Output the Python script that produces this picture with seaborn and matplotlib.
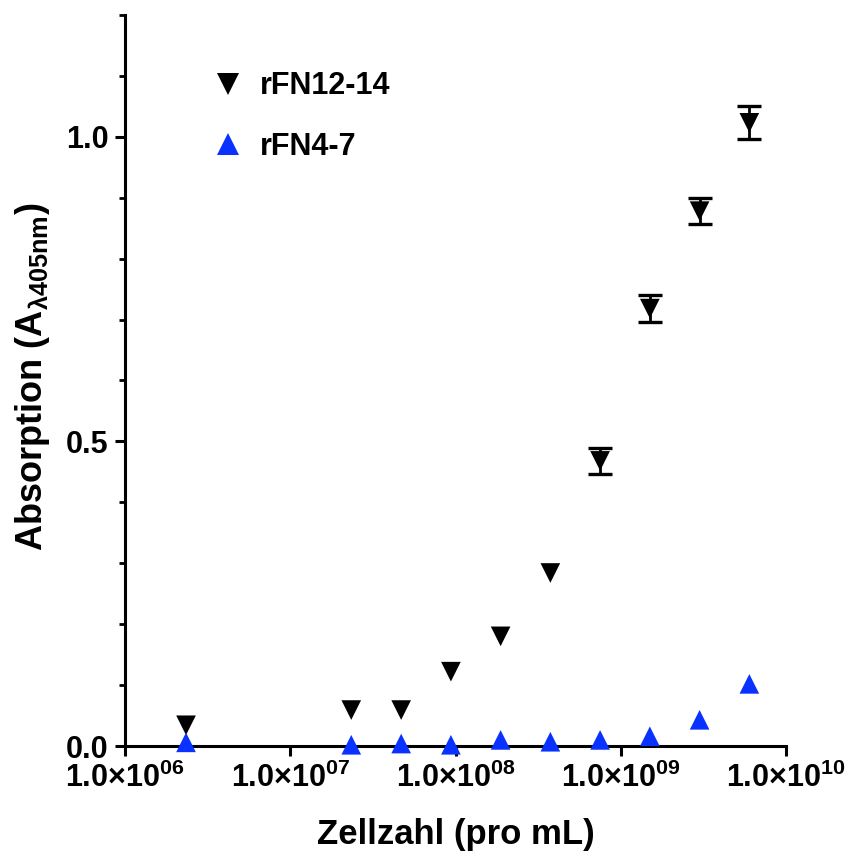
import numpy as np
import pandas as pd
import matplotlib
matplotlib.use("Agg")
import matplotlib.pyplot as plt
import seaborn as sns
from matplotlib.ticker import FixedLocator, MultipleLocator, FuncFormatter, NullLocator

# ---- data ----
cells = [2.34e6, 2.34e7, 4.69e7, 9.38e7, 1.875e8, 3.75e8, 7.5e8, 1.5e9, 3.0e9, 6.0e9]
rfn12_14 = [0.034, 0.059, 0.059, 0.122, 0.180, 0.284, 0.468, 0.718, 0.878, 1.023]
rfn12_14_err = [0, 0, 0, 0, 0, 0, 0.022, 0.022, 0.021, 0.027]
rfn4_7 = [0.006, 0.002, 0.004, 0.002, 0.010, 0.007, 0.010, 0.016, 0.043, 0.102]
series_names = ["rFN12-14", "rFN4-7"]
x_ticks = [1e6, 1e7, 1e8, 1e9, 1e10]
y_major = [0.0, 0.5, 1.0]

sns.set_theme(style="ticks")
plt.rcParams["font.family"] = ["Liberation Sans", "DejaVu Sans"]
plt.rcParams["font.weight"] = "bold"
plt.rcParams["mathtext.fontset"] = "custom"
plt.rcParams["mathtext.bf"] = "Liberation Sans:bold"
plt.rcParams["mathtext.rm"] = "Liberation Sans:bold"
plt.rcParams["mathtext.default"] = "bf"
for k in ["text.color", "axes.labelcolor", "xtick.color", "ytick.color",
          "xtick.labelcolor", "ytick.labelcolor", "axes.edgecolor"]:
    plt.rcParams[k] = "black"

df = pd.DataFrame({
    "cells": cells * 2,
    "value": rfn12_14 + rfn4_7,
    "series": [series_names[0]] * len(cells) + [series_names[1]] * len(cells),
})

fig = plt.figure(figsize=(8.52, 8.58), dpi=100)
ax = fig.add_axes([125 / 852, 1 - 746 / 858, 661 / 852, 731 / 858])

colors = {series_names[0]: "black", series_names[1]: "#0a32ff"}
markers = {series_names[0]: "v", series_names[1]: "^"}

# error bars (black series, only where present)
err_df = pd.DataFrame({"cells": cells, "value": rfn12_14, "err": rfn12_14_err})
err_df = err_df[err_df["err"] > 0]
ax.errorbar(err_df["cells"], err_df["value"], yerr=err_df["err"], fmt="none",
            ecolor="black", elinewidth=2.0, capsize=8.5, capthick=2.4, zorder=3)

sns.scatterplot(data=df, x="cells", y="value", hue="series", style="series",
                palette=colors, markers=markers, s=200, linewidth=0,
                edgecolor="none", ax=ax, zorder=4, clip_on=False, legend=True)

ax.set_xscale("log")
ax.set_xlim(1e6, 1e10)
ax.set_ylim(0, 1.2)

ax.xaxis.set_major_locator(FixedLocator(x_ticks))
ax.xaxis.set_minor_locator(NullLocator())

def xfmt(v, pos):
    e = int(round(np.log10(v)))
    return "1.0×10$^{%02d}$" % e

ax.xaxis.set_major_formatter(FuncFormatter(xfmt))
ax.yaxis.set_major_locator(FixedLocator(y_major))
ax.yaxis.set_minor_locator(MultipleLocator(0.1))
ax.yaxis.set_major_formatter(FuncFormatter(lambda v, p: "%.1f" % v))

for s in ["top", "right"]:
    ax.spines[s].set_visible(False)
for s in ["left", "bottom"]:
    ax.spines[s].set_linewidth(2.2)
    ax.spines[s].set_color("black")

ax.tick_params(axis="both", which="major", direction="out", length=7, width=2.2,
               color="black", labelcolor="black", labelsize=22, pad=5)
ax.tick_params(axis="y", which="minor", direction="out", length=4.5, width=2.0, color="black")
for lab in ax.get_xticklabels() + ax.get_yticklabels():
    lab.set_fontweight("bold")

ax.set_xlabel("Zellzahl (pro mL)", fontsize=25, fontweight="bold", color="black")
ax.set_ylabel("Absorption (A$_{λ405nm}$)", fontsize=26, fontweight="bold", color="black")
ax.xaxis.set_label_coords(0.5, -0.098)
ax.yaxis.set_label_coords(-0.110, 0.505)

handles, labels = ax.get_legend_handles_labels()
leg = ax.legend(handles, labels, loc="upper left", bbox_to_anchor=(0.110, 0.944),
                frameon=False, handlelength=1.0, handletextpad=0.55,
                labelspacing=1.0, borderpad=0, markerscale=1.1,
                prop={"weight": "bold", "size": 22})
for t in leg.get_texts():
    t.set_color("black")
ax.set_facecolor("white")
fig.patch.set_facecolor("white")

fig.savefig("out.png", dpi=100, facecolor="white")
